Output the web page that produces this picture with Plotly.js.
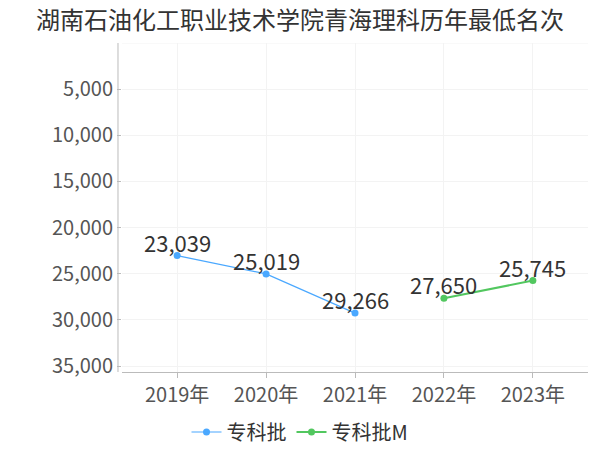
<!DOCTYPE html>
<html>
<head>
<meta charset="utf-8">
<script src="https://cdn.plot.ly/plotly-3.0.1.min.js"></script>
<style>html,body{margin:0;padding:0;background:#fff;}#chart{width:600px;height:450px;}</style>
</head>
<body>
<div id="chart"></div>
<script>
const categories = ['2019年', '2020年', '2021年', '2022年', '2023年'];
const series1Name = '专科批';
const series1X = ['2019年', '2020年', '2021年'];
const series1Y = [23039, 25019, 29266];
const series2Name = '专科批M';
const series2X = ['2022年', '2023年'];
const series2Y = [27650, 25745];
const yTicks = [5000, 10000, 15000, 20000, 25000, 30000, 35000];
const yTickLabels = ['5,000', '10,000', '15,000', '20,000', '25,000', '30,000', '35,000'];
const titleText = '湖南石油化工职业技术学院青海理科历年最低名次';

const fmt = v => v.toLocaleString('en-US');
const font = '"Noto Sans CJK SC", "Noto Sans", sans-serif';

const traces = [
  {
    name: series1Name, x: series1X, y: series1Y, type: 'scatter', mode: 'lines+markers',
    line: {color: '#4aa8ff', width: 1.2}, marker: {color: '#4aa8ff', size: 7}
  },
  {
    name: series2Name, x: series2X, y: series2Y, type: 'scatter', mode: 'lines+markers',
    line: {color: '#52c75f', width: 2}, marker: {color: '#52c75f', size: 7}
  }
];

const labelAnn = (xs, ys) => xs.map((x, i) => ({
  x: x, y: ys[i], xref: 'x', yref: 'y', text: fmt(ys[i]), showarrow: false,
  xanchor: 'center', yanchor: 'middle', yshift: 14,
  font: {size: 22, color: '#333', family: font}
}));

const layout = {
  width: 600, height: 450,
  margin: {l: 122, r: 12, t: 43, b: 78, autoexpand: false},
  paper_bgcolor: '#fff', plot_bgcolor: '#fff',
  font: {family: font, color: '#555'},
  title: {text: titleText, x: 0.5, xref: 'container', y: 0.955, yref: 'container', yanchor: 'middle', xanchor: 'center',
          font: {size: 24, color: '#333', family: font}},
  xaxis: {
    type: 'category', categoryorder: 'array', categoryarray: categories,
    range: [-0.62, 4.62], showline: true, linecolor: '#bbb', linewidth: 1,
    ticks: 'outside', ticklen: 5, tickcolor: '#bbb',
    showgrid: true, gridcolor: '#f3f3f3', zeroline: false,
    tickfont: {size: 20, color: '#555', family: font}
  },
  yaxis: {
    autorange: false, range: [35650, 0],
    tickvals: yTicks, ticktext: yTickLabels,
    showline: false, ticks: 'outside', ticklen: 4, tickcolor: '#bbb',
    showgrid: true, gridcolor: '#f3f3f3', zeroline: false,
    tickfont: {size: 20, color: '#555', family: font}
  },
  annotations: labelAnn(series1X, series1Y).concat(labelAnn(series2X, series2Y)),
  shapes: [
    {type: 'line', xref: 'paper', yref: 'paper', x0: -0.0086, x1: -0.0086, y0: 0, y1: 1,
     line: {color: '#bbb', width: 1}},
    {type: 'line', xref: 'paper', yref: 'y', x0: 0, x1: 1, y0: 0, y1: 0,
     line: {color: '#f3f3f3', width: 1}}
  ],
  showlegend: true,
  legend: {orientation: 'h', x: 0.5, xref: 'container', xanchor: 'center', y: 0.04, yref: 'container', yanchor: 'middle',
           font: {size: 20, color: '#333', family: font}, itemwidth: 30},
};

Plotly.newPlot('chart', traces, layout, {displayModeBar: false, staticPlot: true});
</script>
</body>
</html>
